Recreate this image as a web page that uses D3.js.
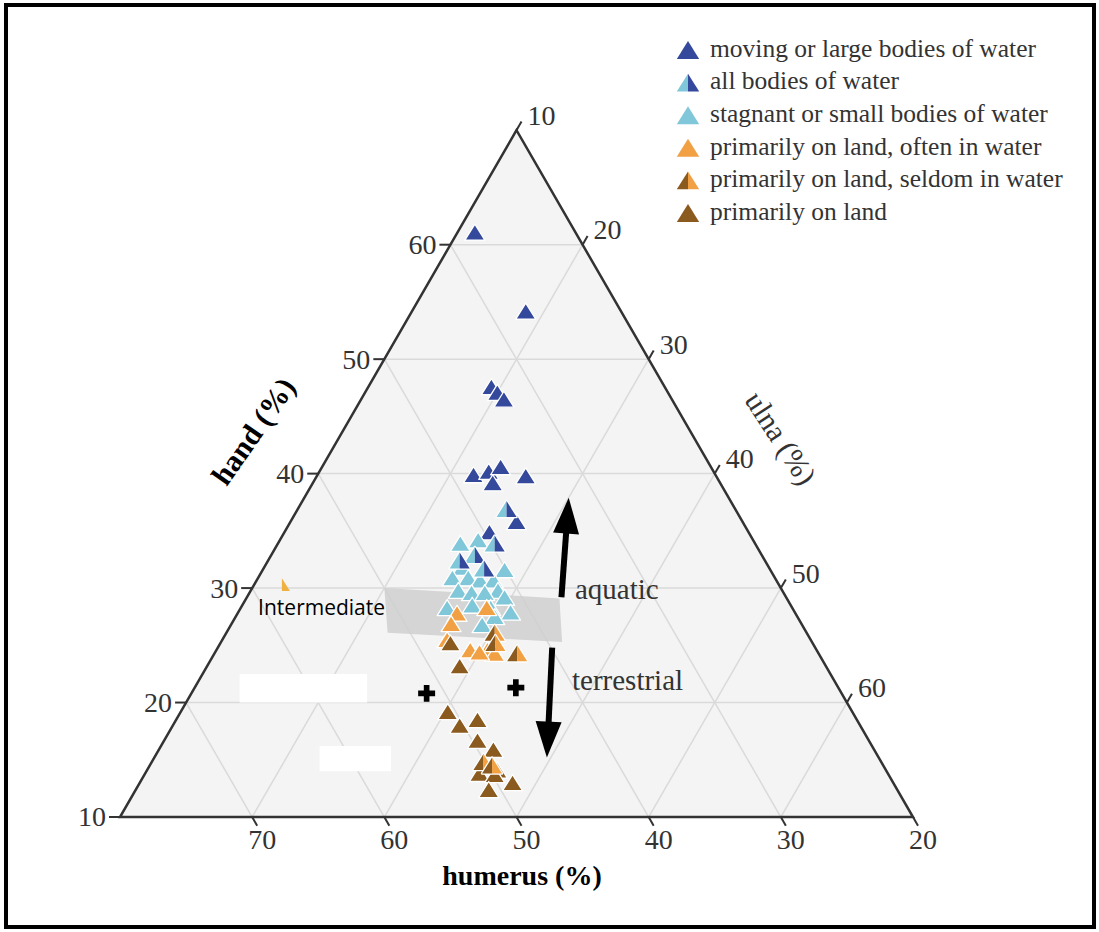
<!DOCTYPE html>
<html><head><meta charset="utf-8">
<script src="https://cdn.jsdelivr.net/npm/d3@7"></script>
<style>body{margin:0;background:#fff}svg{display:block}</style>
</head><body><svg id="c" width="1099" height="932"></svg>
<script>
// ---------- data ----------
const handTicks = [10, 20, 30, 40, 50, 60];
const ulnaTicks = [10, 20, 30, 40, 50, 60];
const humerusTicks = [70, 60, 50, 40, 30, 20];
const gridValues = [20, 30, 40, 50, 60];
const humerusGrid = [30, 40, 50, 60, 70];

const legendLabels = [
  "moving or large bodies of water",
  "all bodies of water",
  "stagnant or small bodies of water",
  "primarily on land, often in water",
  "primarily on land, seldom in water",
  "primarily on land"
];

// points as [hand %, ulna %, humerus %]
const movingWater = [
  [61.1, 11.3, 27.6], [54.2, 18.6, 27.2],
  [47.6, 19.3, 33.1], [47.1, 20.0, 32.9], [46.5, 20.8, 32.7],
  [39.9, 21.8, 38.3], [40.2, 22.8, 37.0], [40.6, 23.5, 35.9], [39.2, 23.6, 37.2], [39.8, 25.8, 34.4],
  [35.8, 27.1, 37.1], [34.9, 25.5, 39.6]
];
const allWater = [
  [36.9, 25.8, 37.3], [33.9, 26.4, 39.7], [32.9, 25.4, 41.7], [32.4, 24.5, 43.1], [31.7, 26.7, 41.6]
];
const stagnantWater = [
  [33.9, 23.8, 42.3], [34.2, 25.0, 40.8], [31.8, 25.0, 43.2], [31.6, 28.3, 40.1],
  [30.9, 24.7, 44.4], [30.9, 25.9, 43.2], [30.7, 26.9, 42.4], [30.7, 27.9, 41.4],
  [29.8, 28.7, 41.5], [29.8, 25.7, 44.5], [29.6, 26.8, 43.6], [29.6, 27.8, 42.6],
  [29.2, 29.5, 41.3], [28.5, 27.4, 44.1], [28.3, 25.6, 46.1], [28.3, 28.9, 42.8],
  [27.9, 30.6, 41.5], [27.5, 29.6, 42.9], [26.8, 29.0, 44.2]
];
const landOften = [
  [27.8, 26.6, 45.6], [28.3, 28.6, 43.1], [26.9, 26.6, 46.5], [25.5, 27.0, 47.5],
  [24.6, 29.2, 46.2], [24.6, 30.5, 44.9], [24.3, 31.2, 44.5], [24.4, 30.0, 45.6]
];
const landEdge = [[30.3, 12.1, 57.6]];
const landSeldom = [
  [26.1, 30.3, 43.6], [25.2, 30.8, 44.0], [24.3, 32.9, 42.8], [14.8, 35.1, 50.1], [14.5, 35.9, 49.6]
];
const landOnly = [
  [25.2, 27.4, 47.4], [23.2, 29.1, 47.7], [19.2, 30.2, 50.6], [18.5, 32.8, 48.7],
  [18.0, 31.7, 50.3], [16.7, 33.7, 49.6], [15.9, 35.3, 48.8], [14.1, 36.5, 49.4],
  [13.8, 35.3, 50.9], [13.7, 36.5, 49.8], [13.0, 38.2, 48.8], [12.4, 36.7, 50.9]
];
const groupMeans = [[20.8, 27.8, 51.4], [21.3, 34.3, 44.4]];

// annotations in [hand, ulna]
const intermediateBand = [[30.0, 20.0], [29.1, 33.7], [25.3, 35.8], [26.1, 22.2]];
const aquaticArrow = [[29.2, 33.8], [37.9, 30.0]];
const terrestrialArrow = [[24.8, 35.3], [15.2, 39.7]];
const maskBoxes = [[[22.5, 12.8], [20.0, 23.7]], [[16.2, 22.0], [14.0, 28.5]]];

// ---------- projection ----------
const side = 793, x0 = 120, yBase = 817, th = side * Math.sqrt(3) / 2;
const yScale = d3.scaleLinear().domain([10, 70]).range([yBase, yBase - th]);
const leftX = d3.scaleLinear().domain([10, 70]).range([x0, x0 + side / 2]);
const ulnaW = d3.scaleLinear().domain([0, 60]).range([0, side]);
const proj = (hand, ulna) => [leftX(hand) + ulnaW(ulna - 10), yScale(hand)];

const colors = { dark: "#34499c", light: "#80c7d9", orange: "#f1a043", brown: "#8a5a1f" };
const serif = "'Liberation Serif', 'Times New Roman', serif";

const svg = d3.select("#c");
svg.append("rect").attr("width", 1099).attr("height", 932).attr("fill", "#fff");

// triangle background
const corners = [proj(70, 10), proj(10, 10), proj(10, 70)];
svg.append("path").attr("d", "M" + corners.join("L") + "Z").attr("fill", "#f4f4f4");

// grid
const grid = svg.append("g").attr("stroke", "#dadada").attr("stroke-width", 1.5).attr("fill", "none");
gridValues.forEach(v => {
  grid.append("line").datum([proj(v, 10), proj(v, 80 - v)]);
  grid.append("line").datum([proj(10, v), proj(80 - v, v)]);
});
humerusGrid.forEach(v => {
  grid.append("line").datum([proj(10, 90 - v), proj(90 - v, 10)]);
});
grid.selectAll("line").attr("x1", d => d[0][0]).attr("y1", d => d[0][1]).attr("x2", d => d[1][0]).attr("y2", d => d[1][1]);

// white masking boxes
maskBoxes.forEach(b => {
  const p1 = proj(b[0][0], b[0][1]), p2 = proj(b[1][0], b[1][1]);
  svg.append("rect").attr("x", p1[0]).attr("y", p1[1]).attr("width", p2[0] - p1[0]).attr("height", p2[1] - p1[1]).attr("fill", "#fff");
});

// intermediate band
svg.append("path").attr("d", "M" + intermediateBand.map(d => proj(d[0], d[1])).join("L") + "Z")
  .attr("fill", "#cfcfcf").attr("opacity", 0.85);

// outline
svg.append("path").attr("d", "M" + corners.join("L") + "Z").attr("fill", "none").attr("stroke", "#333").attr("stroke-width", 2.5);

// ticks
const tg = svg.append("g").attr("stroke", "#333").attr("stroke-width", 2);
const lab = svg.append("g").attr("font-family", serif).attr("font-size", 28).attr("fill", "#333");
handTicks.forEach(v => {
  const p = proj(v, 10);
  tg.append("line").attr("x1", p[0]).attr("y1", p[1]).attr("x2", p[0] - 11).attr("y2", p[1]);
  lab.append("text").attr("x", p[0] - 14).attr("y", p[1] + 3).attr("text-anchor", "end").attr("dominant-baseline", "middle").text(v);
});
ulnaTicks.forEach(v => {
  const p = proj(80 - v, v);
  tg.append("line").attr("x1", p[0]).attr("y1", p[1]).attr("x2", p[0] + 5).attr("y2", p[1] - 8.7);
  lab.append("text").attr("x", p[0] + 11).attr("y", p[1] - 12).attr("dominant-baseline", "middle").text(v);
});
humerusTicks.forEach(v => {
  const p = proj(10, 90 - v);
  tg.append("line").attr("x1", p[0]).attr("y1", p[1]).attr("x2", p[0] + 5).attr("y2", p[1] + 8.7);
  lab.append("text").attr("x", p[0] + 10).attr("y", p[1] + 26).attr("text-anchor", "middle").attr("dominant-baseline", "middle").text(v);
});

// axis titles
svg.append("text").attr("x", 522).attr("y", 879).attr("text-anchor", "middle").attr("dominant-baseline", "middle")
  .attr("font-family", serif).attr("font-weight", "bold").attr("font-size", 28).attr("fill", "#000").text("humerus (%)");
svg.append("text").attr("transform", "translate(256,433) rotate(-55)").attr("text-anchor", "middle").attr("dominant-baseline", "middle")
  .attr("font-family", serif).attr("font-weight", "bold").attr("font-size", 30).attr("fill", "#000").text("hand (%)");
svg.append("text").attr("transform", "translate(778,440) rotate(57)").attr("text-anchor", "middle").attr("dominant-baseline", "middle")
  .attr("font-family", serif).attr("font-size", 30).attr("fill", "#333").text("ulna (%)");

// markers
const full = "M-10,8L10,8L0,-8Z", leftHalf = "M-10,8L0,8L0,-8Z", rightHalf = "M0,8L10,8L0,-8Z";
function drawSolid(data, color) {
  svg.append("g").selectAll("path").data(data).join("path")
    .attr("transform", d => "translate(" + proj(d[0], d[1]) + ")")
    .attr("d", full).attr("fill", color).attr("stroke", "#fff").attr("stroke-width", 1.3).attr("stroke-linejoin", "round");
}
function drawSplit(data, cl, cr) {
  const g = svg.append("g").selectAll("g").data(data).join("g").attr("transform", d => "translate(" + proj(d[0], d[1]) + ")");
  g.append("path").attr("d", full).attr("fill", "none").attr("stroke", "#fff").attr("stroke-width", 2.4).attr("stroke-linejoin", "round");
  g.append("path").attr("d", leftHalf).attr("fill", cl);
  g.append("path").attr("d", rightHalf).attr("fill", cr);
}
drawSolid(movingWater, colors.dark);
drawSolid(stagnantWater, colors.light);
drawSplit(allWater, colors.light, colors.dark);
drawSolid(landOften, colors.orange);
drawSolid(landOnly, colors.brown);
drawSplit(landSeldom, colors.brown, colors.orange);
svg.append("g").selectAll("path").data(landEdge).join("path")
  .attr("transform", d => "translate(" + proj(d[0], d[1]) + ") scale(0.8)")
  .attr("d", rightHalf).attr("fill", "#f0b040");

// group means (crosses)
svg.append("g").selectAll("path").data(groupMeans).join("path")
  .attr("transform", d => "translate(" + proj(d[0], d[1]) + ")")
  .attr("d", d3.symbol(d3.symbolCross, 160)).attr("fill", "#000");

// "Intermediate" label
const ip = proj(28.1, 11.4);
svg.append("text").attr("x", ip[0]).attr("y", ip[1]).attr("dominant-baseline", "middle")
  .attr("font-family", "'Open Sans', 'Liberation Sans', sans-serif").attr("font-size", 21).attr("fill", "#000").text("Intermediate");

// arrows
function arrow(a) {
  const s = proj(a[0][0], a[0][1]), t = proj(a[1][0], a[1][1]);
  const dx = t[0] - s[0], dy = t[1] - s[1], L = Math.hypot(dx, dy), ux = dx / L, uy = dy / L;
  const hl = 36, hw = 13;
  const b = [t[0] - ux * hl, t[1] - uy * hl];
  svg.append("line").attr("x1", s[0]).attr("y1", s[1]).attr("x2", b[0] + ux * 2).attr("y2", b[1] + uy * 2)
    .attr("stroke", "#000").attr("stroke-width", 6);
  svg.append("path").attr("d", "M" + t + "L" + [b[0] - uy * hw, b[1] + ux * hw] + "L" + [b[0] + uy * hw, b[1] - ux * hw] + "Z").attr("fill", "#000");
}
arrow(aquaticArrow);
arrow(terrestrialArrow);
const ap = proj(29.65, 34.6), tp = proj(21.7, 38.35);
svg.append("text").attr("x", ap[0]).attr("y", ap[1]).attr("dominant-baseline", "middle").attr("font-family", serif).attr("font-size", 29).attr("fill", "#333").text("aquatic");
svg.append("text").attr("x", tp[0]).attr("y", tp[1]).attr("dominant-baseline", "middle").attr("font-family", serif).attr("font-size", 29).attr("fill", "#333").text("terrestrial");

// legend
const leg = svg.append("g");
const ly = d3.scaleLinear().domain([0, 5]).range([50, 213]);
legendLabels.forEach((t, i) => {
  const g = leg.append("g").attr("transform", "translate(688," + ly(i) + ") scale(1.12)");
  const kind = [["s", colors.dark], ["p", colors.light, colors.dark], ["s", colors.light], ["s", colors.orange], ["p", colors.brown, colors.orange], ["s", colors.brown]][i];
  if (kind[0] === "s") g.append("path").attr("d", full).attr("fill", kind[1]);
  else { g.append("path").attr("d", leftHalf).attr("fill", kind[1]); g.append("path").attr("d", rightHalf).attr("fill", kind[2]); }
  leg.append("text").attr("x", 710).attr("y", ly(i) + 1).attr("dominant-baseline", "middle")
    .attr("font-family", serif).attr("font-size", 25.5).attr("fill", "#333").text(t);
});

// frame
svg.append("rect").attr("x", 6).attr("y", 5).attr("width", 1088).attr("height", 922)
  .attr("fill", "none").attr("stroke", "#000").attr("stroke-width", 4);
</script></body></html>
